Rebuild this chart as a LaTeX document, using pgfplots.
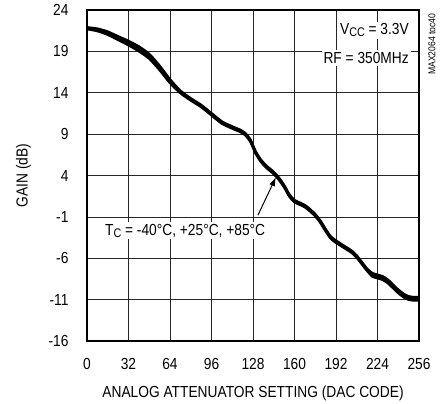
\documentclass[border=0pt]{standalone}
\usepackage{fontspec}
\setmainfont{Liberation Sans}[FakeStretch=0.86]
\usepackage{pgfplots}
\pgfplotsset{compat=1.18}
\usepackage{pgfplotstable}
\usetikzlibrary{arrows.meta}
\newcommand{\fs}{\fontsize{16}{19}\selectfont}
\newcommand{\sub}[1]{{\fontsize{12.5}{12.5}\selectfont\raisebox{-2pt}{#1}}}
\pgfplotstableread{
x y
0 21.9
8 21.74
16 21.38
24 20.81
32 20.25
40 19.58
48 18.68
56 17.25
64 15.61
72 14.24
80 13.32
88 12.52
96 11.52
104 10.52
112 9.92
118 9.52
122 9.12
126 8.32
130 6.92
134 5.92
138 5.22
144 4.42
148 3.72
152 2.82
156 1.72
160 1.02
164 0.72
168 0.42
172 -0.08
176 -0.68
180 -1.48
184 -2.48
188 -3.38
192 -3.88
196 -4.28
200 -4.68
204 -5.08
208 -5.68
212 -6.48
216 -7.28
220 -7.8
224 -8.0
228 -8.2
232 -8.6
236 -9.2
240 -9.8
244 -10.3
248 -10.6
252 -10.7
256 -10.7
}\cold
\pgfplotstableread{
x y
0 21.8
8 21.6
16 21.2
24 20.6
32 20.0
40 19.3
48 18.4
56 17.0
64 15.4
72 14.1
80 13.2
88 12.4
96 11.4
104 10.4
112 9.8
118 9.4
122 9.0
126 8.2
130 6.8
134 5.8
138 5.1
144 4.3
148 3.6
152 2.7
156 1.6
160 0.9
164 0.6
168 0.3
172 -0.2
176 -0.8
180 -1.6
184 -2.6
188 -3.5
192 -4.0
196 -4.4
200 -4.8
204 -5.2
208 -5.8
212 -6.6
216 -7.4
220 -8.0
224 -8.2
228 -8.4
232 -8.8
236 -9.4
240 -10.0
244 -10.5
248 -10.8
252 -10.9
256 -10.9
}\room
\pgfplotstableread{
x y
0 21.7
8 21.46
16 21.02
24 20.39
32 19.75
40 19.02
48 18.12
56 16.75
64 15.19
72 13.96
80 13.08
88 12.28
96 11.28
104 10.28
112 9.68
118 9.28
122 8.88
126 8.08
130 6.68
134 5.68
138 4.98
144 4.18
148 3.48
152 2.58
156 1.48
160 0.78
164 0.48
168 0.18
172 -0.32
176 -0.92
180 -1.72
184 -2.72
188 -3.62
192 -4.12
196 -4.52
200 -4.92
204 -5.32
208 -5.92
212 -6.72
216 -7.52
220 -8.2
224 -8.4
228 -8.6
232 -9.0
236 -9.6
240 -10.2
244 -10.7
248 -11.0
252 -11.1
256 -11.1
}\hot
\begin{document}
\begin{tikzpicture}
\path[use as bounding box] (-87pt,-62pt) rectangle (356pt,341pt);
\begin{axis}[
  name=ax,
  at={(0pt,0pt)}, anchor=south west,
  scale only axis, width=332pt, height=331pt,
  xmin=0, xmax=256, ymin=-16, ymax=24,
  xtick={0,32,...,256}, ytick={-16,-11,...,24},
  grid=major,
  major grid style={black!85, line width=0.7pt},
  axis line style={line width=2.2pt},
  tick style={draw=none},
  /pgf/number format/assume math mode=true,
  ticklabel style={font=\fs},
  xticklabel style={yshift=-14pt},
  yticklabel style={xshift=-15pt},
  clip=false,
]
\addplot[black, line width=2.5pt, smooth, tension=0.4] table[x=x,y=y] {\cold};
\addplot[black, line width=2.5pt, smooth, tension=0.4] table[x=x,y=y] {\room};
\addplot[black, line width=2.5pt, smooth, tension=0.4] table[x=x,y=y] {\hot};
\node[anchor=base east, fill=white, inner sep=2pt, font=\fs] at (axis cs:249.8,20.98) {V\sub{CC} = 3.3V};
\node[anchor=base east, fill=white, inner sep=2pt, font=\fs] at (axis cs:249.8,17.55) {RF = 350MHz};
\node[anchor=base west, fill=white, inner sep=2pt, font=\fs] at (axis cs:12.3,-3.2) {T\sub{C} = -40°C, +25°C, +85°C};
\draw[black, line width=1pt, -{Latex[length=9pt,width=6pt]}] (axis cs:131.8,-0.8) -- (axis cs:145.7,3.8);
\end{axis}
\node[font=\fs] at ([yshift=-52pt]ax.south) {ANALOG ATTENUATOR SETTING (DAC CODE)};
\node[font=\fs, rotate=90] at ([xshift=-63.5pt]ax.west) {GAIN (dB)};
\node[font=\fontsize{10}{12}\selectfont, rotate=90, anchor=east] at ([xshift=13pt]ax.north east) {MAX2064 toc40};
\end{tikzpicture}
\end{document}
